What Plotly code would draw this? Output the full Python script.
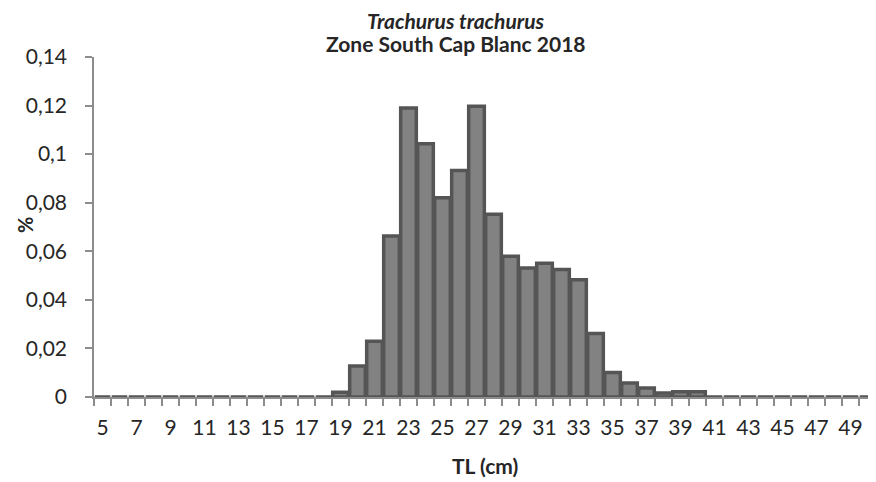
import plotly.graph_objects as go

# length classes (TL, cm) and proportions
lengths = list(range(5, 51))
values = [0] * 14 + [
    0.002, 0.0128, 0.023, 0.0663, 0.119, 0.1043, 0.082, 0.0933,
    0.1197, 0.0752, 0.058, 0.0531, 0.0551, 0.0525, 0.0483, 0.0261,
    0.0101, 0.0058, 0.0037, 0.0016, 0.0022, 0.0022,
] + [0] * 10
tick_labels = [str(v) for v in lengths[::2]]

title_species = "Trachurus trachurus"
title_zone = "Zone South Cap Blanc 2018"
x_title = "TL (cm)"
y_title = "%"

font_family = "Lato, 'Open Sans', sans-serif"
text_color = "#262626"
axis_color = "#8c8c8c"

fig = go.Figure()

fig.add_trace(go.Bar(
    x=lengths,
    y=values,
    marker=dict(color="#828282", line=dict(color="#555555", width=3.5)),
    hoverinfo="x+y",
))

# page body has an 8px margin, so the figure is 8px smaller than the window
fig.update_layout(
    width=868,
    height=474,
    margin=dict(l=86, r=0, t=49, b=85),
    plot_bgcolor="white",
    paper_bgcolor="white",
    bargap=0.08,
    showlegend=False,
    separators=", ",
    font=dict(family=font_family, size=21, color=text_color),
    xaxis=dict(
        range=[4.5, 50.5],
        tickmode="array",
        tickvals=lengths[::2],
        ticktext=tick_labels,
        ticks="",
        showline=True,
        linecolor=axis_color,
        linewidth=1.5,
        showgrid=False,
        zeroline=False,
        ticklabelstandoff=11,
        minor=dict(tick0=4.5, dtick=1, ticks="outside", ticklen=7,
                   tickcolor=axis_color, tickwidth=1.5, showgrid=False),
    ),
    yaxis=dict(
        range=[0, 0.14],
        tick0=0,
        dtick=0.02,
        ticks="outside",
        ticklen=7,
        tickcolor=axis_color,
        tickwidth=1.5,
        showline=True,
        linecolor=axis_color,
        linewidth=1.5,
        showgrid=False,
        zeroline=False,
        ticklabelstandoff=14,
    ),
)

# two-line title
fig.add_annotation(text=f"<b><i>{title_species}</i></b>", xref="paper", yref="paper",
                   x=0.463, y=1, yshift=37, showarrow=False, yanchor="middle",
                   font=dict(size=21))
fig.add_annotation(text=f"<b>{title_zone}</b>", xref="paper", yref="paper",
                   x=0.463, y=1, yshift=14, showarrow=False, yanchor="middle",
                   font=dict(size=21))

# axis titles
fig.add_annotation(text=f"<b>{x_title}</b>", xref="paper", yref="paper",
                   x=0.5, y=0, yshift=-68, showarrow=False, yanchor="middle",
                   font=dict(size=21))
fig.add_annotation(text=f"<b>{y_title}</b>", xref="paper", yref="paper",
                   x=0, xshift=-69, y=0.506, showarrow=False, textangle=-90,
                   xanchor="center", yanchor="middle", font=dict(size=20))

fig.write_html("out.html")
